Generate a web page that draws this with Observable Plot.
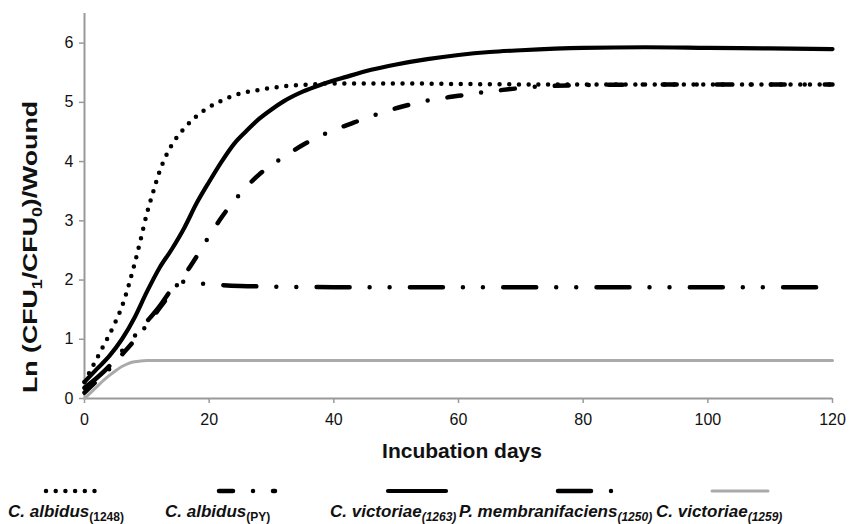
<!DOCTYPE html>
<html>
<head>
<meta charset="utf-8">
<script src="https://cdn.jsdelivr.net/npm/d3@7"></script>
<script src="https://cdn.jsdelivr.net/npm/@observablehq/plot@0.6"></script>
<style>
  body { margin: 0; background: #fff; }
  #wrap { position: relative; width: 850px; height: 524px; font-family: "Liberation Sans", Arial, Helvetica, sans-serif; }
  #legend { position: absolute; left: 0; top: 470px; }
</style>
</head>
<body>
<div id="wrap"></div>
<script>
// ---- Data ----
const xTicks = [0, 20, 40, 60, 80, 100, 120];
const yTicks = [0, 1, 2, 3, 4, 5, 6];

// C. albidus (1248) – dotted
const alb1248Days = [0, 1, 2, 3, 4, 5, 6, 7, 8, 9, 10, 11, 12, 13, 14, 16, 18, 20, 22, 25, 28, 32, 36, 40, 50, 60, 80, 100, 120];
const alb1248Vals = [0.28, 0.48, 0.68, 0.88, 1.08, 1.3, 1.55, 1.88, 2.26, 2.68, 3.12, 3.48, 3.82, 4.08, 4.28, 4.56, 4.77, 4.92, 5.03, 5.15, 5.21, 5.27, 5.3, 5.32, 5.32, 5.31, 5.3, 5.3, 5.3];

// C. albidus (PY) – dash dot
const albPYDays = [0, 2, 4, 6, 8, 10, 12, 14, 16, 18, 20, 22, 25, 28, 32, 35, 39, 43, 47, 51, 55, 60, 64, 68, 72, 80, 90, 100, 120];
const albPYVals = [0.1, 0.3, 0.5, 0.74, 0.98, 1.24, 1.52, 1.8, 2.08, 2.4, 2.74, 3.06, 3.46, 3.78, 4.08, 4.28, 4.49, 4.65, 4.8, 4.93, 5.03, 5.11, 5.17, 5.22, 5.26, 5.29, 5.3, 5.3, 5.3];

// C. victoriae (1263) – solid black
const vic1263Days = [0, 2, 4, 6, 8, 10, 12, 14, 16, 18, 20, 22, 24, 26, 28, 30, 32, 35, 38, 42, 46, 50, 55, 60, 65, 70, 80, 90, 100, 110, 120];
const vic1263Vals = [0.28, 0.5, 0.72, 1.0, 1.36, 1.8, 2.2, 2.52, 2.88, 3.3, 3.66, 4.0, 4.3, 4.52, 4.72, 4.88, 5.02, 5.18, 5.3, 5.43, 5.55, 5.64, 5.73, 5.8, 5.85, 5.88, 5.92, 5.93, 5.92, 5.91, 5.9];

// P. membranifaciens (1250) – long dash dot dot
const pmemDays = [0, 2, 4, 6, 8, 10, 12, 13, 14, 15, 16, 18, 20, 25, 30, 40, 60, 80, 100, 120];
const pmemVals = [0.18, 0.35, 0.55, 0.8, 1.05, 1.3, 1.55, 1.7, 1.85, 1.95, 1.97, 1.95, 1.93, 1.9, 1.89, 1.88, 1.88, 1.88, 1.88, 1.88];

// C. victoriae (1259) – grey solid
const vic1259Days = [0, 1, 2, 3, 4, 5, 6, 7, 8, 9, 10, 15, 20, 40, 60, 80, 100, 120];
const vic1259Vals = [0, 0.1, 0.2, 0.3, 0.39, 0.47, 0.54, 0.59, 0.62, 0.635, 0.64, 0.64, 0.64, 0.64, 0.64, 0.64, 0.64, 0.64];

const seriesNames = ["C. albidus", "C. albidus", "C. victoriae", "P. membranifaciens", "C. victoriae"];
const seriesSubs = ["(1248)", "(PY)", "(1263)", "(1250)", "(1259)"];
const subItalic = [false, false, true, true, true];

const toRows = (days, vals) => days.map((d, i) => ({day: d, v: vals[i]}));

const styles = [
  {stroke: "#000", strokeWidth: 4.5, strokeDasharray: "0 9.7", strokeLinecap: "round"},
  {stroke: "#000", strokeWidth: 4.5, strokeDasharray: "14 20 0 20", strokeLinecap: "round"},
  {stroke: "#000", strokeWidth: 4.2, strokeLinecap: "round"},
  {stroke: "#000", strokeWidth: 4.5, strokeDasharray: "33 20 0 20 0 20.3", strokeLinecap: "round"},
  {stroke: "#aaa", strokeWidth: 3, strokeLinecap: "round"}
];
const series = [
  toRows(alb1248Days, alb1248Vals),
  toRows(albPYDays, albPYVals),
  toRows(vic1263Days, vic1263Vals),
  toRows(pmemDays, pmemVals),
  toRows(vic1259Days, vic1259Vals)
];
const drawOrder = [4, 3, 1, 0, 2];

const font = '"Liberation Sans", Arial, Helvetica, sans-serif';

const chart = Plot.plot({
  width: 850,
  height: 470,
  marginLeft: 84,
  marginRight: 18,
  marginTop: 13,
  marginBottom: 72,
  style: {fontFamily: font, fontSize: "16px", color: "#000", background: "#fff", overflow: "visible"},
  x: {domain: [0, 120]},
  y: {domain: [0, 6.5]},
  marks: [
    Plot.axisX({ticks: xTicks, tickFormat: d => String(d), tickSize: 5, tickPadding: 10, stroke: "#999", strokeWidth: 1.5, label: null, fontSize: 16, fill: "#111"}),
    Plot.axisY({ticks: yTicks, tickFormat: d => String(d), tickSize: 5, tickPadding: 6, stroke: "#999", strokeWidth: 1.5, label: null, fontSize: 16, fill: "#111"}),
    Plot.ruleY([0], {stroke: "#999", strokeWidth: 2}),
    Plot.ruleX([0], {stroke: "#999", strokeWidth: 2}),
    ...drawOrder.map(i => Plot.line(series[i], {x: "day", y: "v", curve: "monotone-x", ...styles[i]}))
  ]
});

const wrap = document.getElementById("wrap");
wrap.appendChild(chart);

// axis titles (with subscripts)
const svg = d3.select(chart);
const yl = svg.append("text")
  .attr("transform", "translate(37,247) rotate(-90)")
  .attr("text-anchor", "middle")
  .attr("font-family", font)
  .attr("font-weight", "bold")
  .attr("font-size", 21)
  .attr("textLength", 292)
  .attr("lengthAdjust", "spacingAndGlyphs")
  .attr("fill", "#111");
yl.append("tspan").text("Ln (CFU");
yl.append("tspan").attr("font-size", 14).attr("dy", 5).text("1");
yl.append("tspan").attr("dy", -5).text("/CFU");
yl.append("tspan").attr("font-size", 14).attr("dy", 5).text("0");
yl.append("tspan").attr("dy", -5).text(")/Wound");

svg.append("text")
  .attr("x", 462).attr("y", 458)
  .attr("text-anchor", "middle")
  .attr("font-family", font)
  .attr("font-weight", "bold")
  .attr("font-size", 21)
  .attr("fill", "#111")
  .text("Incubation days");

// legend
const sampleX = [[46, 96], [219, 275], [388, 446], [558, 614], [712, 768]];
const labelX = [8, 165, 330, 459, 656];
const lg = d3.select(wrap).append("svg")
  .attr("id", "legend")
  .attr("width", 850).attr("height", 54);
[0, 1, 2, 3, 4].forEach(i => {
  const s = styles[i];
  lg.append("line")
    .attr("x1", sampleX[i][0]).attr("x2", sampleX[i][1])
    .attr("y1", 21).attr("y2", 21)
    .attr("stroke", s.stroke)
    .attr("stroke-width", s.strokeWidth)
    .attr("stroke-dasharray", s.strokeDasharray || null)
    .attr("stroke-linecap", s.strokeLinecap);
  const t = lg.append("text")
    .attr("x", labelX[i]).attr("y", 47)
    .attr("font-family", font)
    .attr("font-weight", "bold")
    .attr("font-style", "italic")
    .attr("font-size", 17)
    .attr("fill", "#111");
  t.append("tspan").text(seriesNames[i]);
  t.append("tspan").attr("font-size", 12).attr("dy", 4)
    .attr("font-style", subItalic[i] ? "italic" : "normal")
    .text(seriesSubs[i]);
});
</script>
</body>
</html>
